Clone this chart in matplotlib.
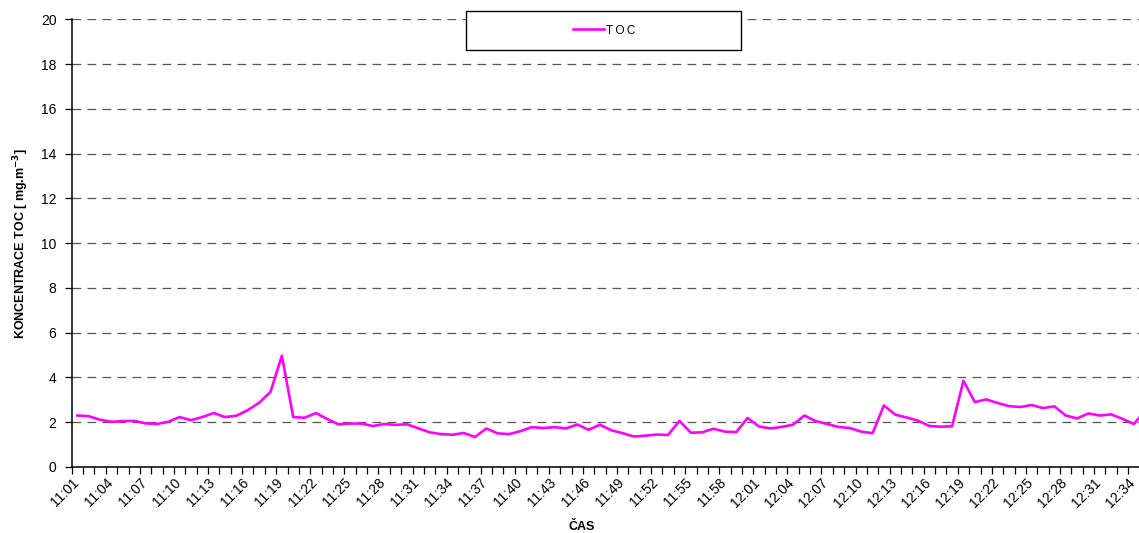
import numpy as np
import matplotlib
matplotlib.use("Agg")
import matplotlib.pyplot as plt
import matplotlib.transforms as mtransforms
from matplotlib.patches import Rectangle

plt.rcParams["font.family"] = ["Liberation Sans", "DejaVu Sans"]

# časy měření (po minutách)
times = [
    "11:01", "11:02", "11:03", "11:04", "11:05", "11:06", "11:07", "11:08", "11:09", "11:10",
    "11:11", "11:12", "11:13", "11:14", "11:15", "11:16", "11:17", "11:18", "11:19", "11:20",
    "11:21", "11:22", "11:23", "11:24", "11:25", "11:26", "11:27", "11:28", "11:29", "11:30",
    "11:31", "11:32", "11:33", "11:34", "11:35", "11:36", "11:37", "11:38", "11:39", "11:40",
    "11:41", "11:42", "11:43", "11:44", "11:45", "11:46", "11:47", "11:48", "11:49", "11:50",
    "11:51", "11:52", "11:53", "11:54", "11:55", "11:56", "11:57", "11:58", "11:59", "12:00",
    "12:01", "12:02", "12:03", "12:04", "12:05", "12:06", "12:07", "12:08", "12:09", "12:10",
    "12:11", "12:12", "12:13", "12:14", "12:15", "12:16", "12:17", "12:18", "12:19", "12:20",
    "12:21", "12:22", "12:23", "12:24", "12:25", "12:26", "12:27", "12:28", "12:29", "12:30",
    "12:31", "12:32", "12:33", "12:34", "12:35",
]

# koncentrace TOC [mg.m-3]
toc = [
    2.30, 2.27, 2.11, 2.02, 2.05, 2.06, 1.95, 1.92, 2.02, 2.23,
    2.09, 2.23, 2.41, 2.23, 2.29, 2.54, 2.87, 3.35, 4.97, 2.23,
    2.20, 2.41, 2.14, 1.90, 1.94, 1.94, 1.83, 1.92, 1.88, 1.91,
    1.73, 1.55, 1.47, 1.44, 1.52, 1.34, 1.72, 1.50, 1.47, 1.60,
    1.78, 1.74, 1.78, 1.72, 1.90, 1.66, 1.89, 1.64, 1.51, 1.36,
    1.40, 1.45, 1.43, 2.06, 1.53, 1.55, 1.71, 1.58, 1.56, 2.19,
    1.81, 1.72, 1.79, 1.89, 2.30, 2.05, 1.92, 1.79, 1.74, 1.58,
    1.51, 2.75, 2.34, 2.21, 2.07, 1.83, 1.80, 1.82, 3.85, 2.90,
    3.02, 2.86, 2.72, 2.68, 2.77, 2.63, 2.71, 2.30, 2.17, 2.39,
    2.30, 2.35, 2.15, 1.92, 2.52,
]

label_step = 3

fig = plt.figure(figsize=(11.39, 5.33), dpi=100)
ax = fig.add_axes([71.7 / 1139, 66 / 533, 1067.3 / 1139, 447.7 / 533])

x = np.arange(len(toc))
ax.plot(x, toc, color="#FF00FF", lw=1.9, label="T\u2009O\u2009C")

ax.set_yticks(np.arange(0, 21, 2))
ax.yaxis.grid(True, ls=(0, (7, 5)), color="#555555", lw=0.9)
ax.set_axisbelow(True)

ax.set_xticks(x[::label_step])
ax.set_xticklabels(times[::label_step], rotation=45, ha="right",
                   rotation_mode="anchor", fontsize=10)
ax.set_xticks(np.arange(-0.5, len(toc), 1), minor=True)
ax.tick_params(axis="x", which="major", length=0, pad=6)
ax.tick_params(axis="x", which="minor", length=5, width=0.9, direction="out")
ax.tick_params(axis="y", length=5, width=0.9, labelsize=10, pad=6)

# popisky času trochu doleva (jako v Excelu)
shift = mtransforms.ScaledTranslation(-6 / 100, 0, fig.dpi_scale_trans)
for lbl in ax.get_xticklabels():
    lbl.set_transform(lbl.get_transform() + shift)

# limity až po nastavení ticků (set_xticks by je jinak rozšířil)
ax.set_xlim(-0.5, -0.5 + 1067.3 / 11.36)
ax.set_ylim(0, 20)

for s in ("top", "right"):
    ax.spines[s].set_visible(False)
ax.spines["left"].set_linewidth(1.1)
ax.spines["bottom"].set_linewidth(1.1)

fig.text(582 / 1139, 1 - 527 / 533, "ČAS", fontsize=9, fontweight="bold",
         ha="center", va="center")
ax.set_ylabel(r"KONCENTRACE TOC [ mg.m$^{\mathbf{-3}}$]", fontsize=9,
              fontweight="bold", labelpad=7)

# rámeček legendy
fig.patches.append(Rectangle((466 / 1139, 1 - 50 / 533), 275 / 1139, 39 / 533,
                             transform=fig.transFigure, facecolor="white",
                             edgecolor="black", lw=1.0, zorder=5))
leg = fig.legend(loc="center", bbox_to_anchor=((466 + 138) / 1139, 1 - 30.5 / 533),
                 frameon=False, fontsize=8.5, handlelength=2.6, handletextpad=0.15)
leg.set_zorder(6)

fig.savefig("out.png", dpi=100)
